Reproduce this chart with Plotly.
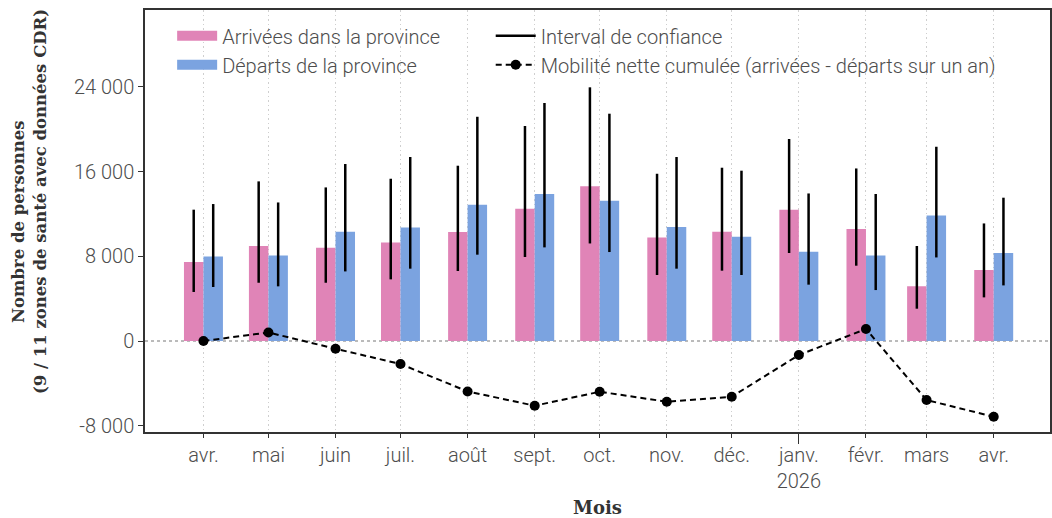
import plotly.graph_objects as go
import pandas as pd

# ---- data ----
months = ["2025-04-01", "2025-05-01", "2025-06-01", "2025-07-01", "2025-08-01",
          "2025-09-01", "2025-10-01", "2025-11-01", "2025-12-01", "2026-01-01",
          "2026-02-01", "2026-03-01", "2026-04-01"]
month_labels = ["avr.", "mai", "juin", "juil.", "août", "sept.", "oct.", "nov.",
                "déc.", "janv.<br>2026", "févr.", "mars", "avr."]

arrivals = [7450, 8970, 8810, 9310, 10290, 12490, 14600, 9780, 10320, 12400, 10570, 5160, 6700]
arrivals_lo = [4630, 5500, 5500, 5820, 6610, 7930, 9210, 6230, 6640, 8310, 7110, 3050, 4120]
arrivals_hi = [12400, 15070, 14500, 15320, 16550, 20300, 23950, 15790, 16360, 19070, 16290, 8970, 11100]

departures = [7990, 8080, 10320, 10720, 12870, 13880, 13240, 10760, 9850, 8430, 8080, 11860, 8310]
departures_lo = [5100, 5160, 6570, 6830, 8150, 8840, 8400, 6830, 6230, 5320, 4810, 7890, 5250]
departures_hi = [12930, 13080, 16710, 17370, 21170, 22470, 21460, 17370, 16080, 13930, 13880, 18340, 13530]

net_cum = [0, 810, -730, -2170, -4760, -6110, -4790, -5730, -5260, -1320, 1130, -5570, -7150]

y_ticks = [-8000, 0, 8000, 16000, 24000]
y_tick_labels = ["-8 000", "0", "8 000", "16 000", "24 000"]

PINK = "#E084B7"
BLUE = "#7BA3E0"
DAY_MS = 86400000
BAR_DAYS = 9
TXT = "#4d4d4d"
SERIF = "DejaVu Serif"

dates = pd.to_datetime(months)

fig = go.Figure()

fig.add_trace(go.Bar(
    x=months, y=arrivals, name="Arrivées dans la province",
    marker=dict(color=PINK, line=dict(width=0)),
    width=BAR_DAYS * DAY_MS, offset=-BAR_DAYS * DAY_MS, showlegend=False,
))
fig.add_trace(go.Bar(
    x=months, y=departures, name="Départs de la province",
    marker=dict(color=BLUE, line=dict(width=0)),
    width=BAR_DAYS * DAY_MS, offset=0, showlegend=False,
))

# legend swatches for the bar series (wide rectangles)
fig.add_trace(go.Scatter(x=[None], y=[None], mode="lines", name="Arrivées dans la province",
                         line=dict(color=PINK, width=14), legend="legend"))
fig.add_trace(go.Scatter(x=[None], y=[None], mode="lines", name="Départs de la province",
                         line=dict(color=BLUE, width=14), legend="legend"))

# confidence intervals as vertical segments at bar centres
ci_x, ci_y = [], []
half = pd.Timedelta(days=BAR_DAYS / 2)
for d, lo, hi in zip(dates, arrivals_lo, arrivals_hi):
    ci_x += [d - half, d - half, None]
    ci_y += [lo, hi, None]
for d, lo, hi in zip(dates, departures_lo, departures_hi):
    ci_x += [d + half, d + half, None]
    ci_y += [lo, hi, None]

fig.add_trace(go.Scatter(
    x=ci_x, y=ci_y, mode="lines", name="Interval de confiance",
    line=dict(color="black", width=2.5), legend="legend2",
    connectgaps=False,
))

fig.add_trace(go.Scatter(
    x=months, y=net_cum, mode="lines+markers",
    name="Mobilité nette cumulée (arrivées - départs sur un an)",
    line=dict(color="black", width=2, dash="6px,4px"),
    marker=dict(color="black", size=10), legend="legend2",
))

x_range = ["2025-03-05", "2026-04-27"]

fig.update_layout(
    width=1052, height=518,
    margin=dict(l=145, r=2, t=10, b=86, autoexpand=False),
    plot_bgcolor="white", paper_bgcolor="white",
    barmode="overlay",
    font=dict(family="Roboto", size=20, color=TXT, weight=300),
    showlegend=True,
    legend=dict(x=0.030, y=0.985, xanchor="left", yanchor="top",
                bgcolor="rgba(0,0,0,0)", font=dict(size=20, color=TXT),
                tracegroupgap=0, itemwidth=40),
    legend2=dict(x=0.382, y=0.985, xanchor="left", yanchor="top",
                 bgcolor="rgba(0,0,0,0)", font=dict(size=20, color=TXT),
                 tracegroupgap=0, itemwidth=40),
    xaxis=dict(
        type="date", range=x_range, automargin=False,
        tickvals=months, ticktext=month_labels,
        ticks="outside", ticklen=4, tickcolor="#333333", tickwidth=1,
        showline=True, linecolor="#333333", linewidth=1.5, mirror=True,
        showgrid=True, gridcolor="#cfcfcf", griddash="1.5px,3px", gridwidth=1.2,
        tickfont=dict(size=20, color=TXT),
        title=dict(text="Mois", font=dict(family=SERIF, size=18,
                                           color="#333333", weight="bold"),
                   standoff=10),
        zeroline=False,
    ),
    xaxis2=dict(
        type="date", range=x_range, overlaying="x", anchor="y", side="bottom",
        tickvals=[months[9]], ticks="outside", ticklen=11, tickcolor="#333333",
        showticklabels=False, showgrid=False, showline=False, zeroline=False,
        automargin=False,
    ),
    yaxis=dict(
        range=[-8590, 31250], automargin=False,
        tickvals=y_ticks, ticktext=y_tick_labels,
        ticks="outside", ticklen=5, tickcolor="#333333",
        showline=True, linecolor="#333333", linewidth=1.5, mirror=True,
        showgrid=False, zeroline=False,
        tickfont=dict(size=20, color=TXT),
    ),
    shapes=[dict(type="line", xref="paper", x0=0, x1=1, yref="y", y0=0, y1=0,
                 line=dict(color="#777777", width=1, dash="dot"), layer="below")],
    annotations=[
        dict(text="Nombre de personnes", xref="paper", yref="paper",
             x=-0.1403, y=0.4976, textangle=-90, showarrow=False,
             xanchor="center", yanchor="middle",
             font=dict(family=SERIF, size=16.5, color="#333333", weight="bold")),
        dict(text="(9 / 11 zones de santé avec données CDR)", xref="paper", yref="paper",
             x=-0.116, y=0.545, textangle=-90, showarrow=False,
             xanchor="center", yanchor="middle",
             font=dict(family=SERIF, size=16.5, color="#333333", weight="bold")),
    ],
)

# dummy trace so xaxis2 is rendered
fig.add_trace(go.Scatter(x=[months[9]], y=[None], xaxis="x2", showlegend=False,
                         hoverinfo="skip"))

fig.write_html("out.html", config={"displayModeBar": False},
               post_script="document.body.style.margin='0';document.body.style.overflow='hidden';")
